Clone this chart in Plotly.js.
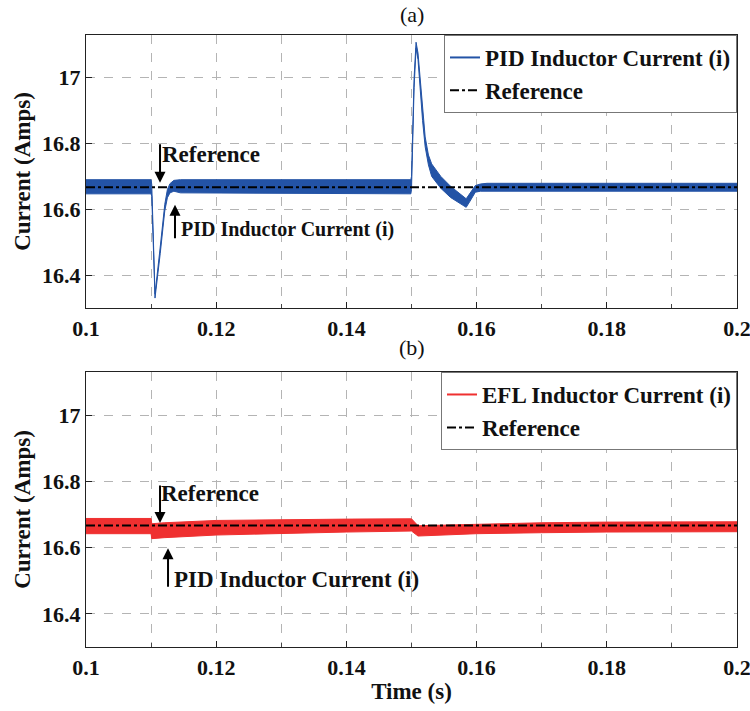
<!DOCTYPE html>
<html>
<head>
<meta charset="utf-8">
<script src="https://cdn.plot.ly/plotly-3.0.1.min.js"></script>
<style>html,body{margin:0;padding:0;background:#fff}#chart{width:750px;height:711px}</style>
</head>
<body>
<div id="chart"></div>
<script>
// ---- data ----
const pidTime  = [0.1, 0.1100, 0.1101, 0.1106, 0.1114, 0.1121, 0.1125, 0.1129, 0.1135, 0.1145, 0.1499, 0.1500, 0.1504, 0.1507, 0.1510, 0.1513, 0.1517, 0.1521, 0.1526, 0.1531, 0.1545, 0.1560, 0.1584, 0.1590, 0.1598, 0.1606, 0.1616, 0.2];
const pidUpper = [16.690, 16.690, 16.675, 16.342, 16.485, 16.615, 16.660, 16.678, 16.688, 16.690, 16.690, 16.700, 17.000, 17.108, 17.075, 17.000, 16.900, 16.820, 16.765, 16.738, 16.700, 16.670, 16.632, 16.648, 16.672, 16.677, 16.679, 16.679];
const pidLower = [16.647, 16.647, 16.640, 16.330, 16.465, 16.595, 16.635, 16.650, 16.655, 16.650, 16.647, 16.660, 16.970, 17.090, 17.055, 16.970, 16.870, 16.790, 16.735, 16.700, 16.664, 16.636, 16.606, 16.625, 16.652, 16.655, 16.655, 16.655];

const eflTime  = [0.1, 0.1100, 0.1101, 0.1120, 0.1200, 0.1300, 0.1400, 0.1499, 0.1500, 0.1510, 0.1550, 0.1600, 0.1700, 0.1800, 0.2];
const eflUpper = [16.688, 16.688, 16.672, 16.675, 16.682, 16.685, 16.686, 16.687, 16.687, 16.666, 16.668, 16.671, 16.675, 16.677, 16.678];
const eflLower = [16.642, 16.642, 16.627, 16.630, 16.638, 16.643, 16.647, 16.650, 16.650, 16.635, 16.638, 16.642, 16.645, 16.647, 16.648];

const refTime  = [0.1, 0.2];
const refValue = [16.667, 16.667];

const xTickVals = [0.1, 0.12, 0.14, 0.16, 0.18, 0.2];
const xTickText = ['0.1', '0.12', '0.14', '0.16', '0.18', '0.2'];
const yTickVals = [16.4, 16.6, 16.8, 17];
const yTickText = ['16.4', '16.6', '16.8', '17'];

const names = {pid: 'PID Inductor Current (i)', efl: 'EFL Inductor Current (i)', ref: 'Reference'};

// ---- styling ----
const BLUE = '#2353A6';
const RED = '#EF3030';
const FONT = 'Liberation Serif';
const boldFont = (s) => ({family: FONT, size: s, color: '#111', weight: 'bold'});

function band(t, lo, hi, color, xa, ya) {
  return [
    {x: t, y: lo, xaxis: xa, yaxis: ya, mode: 'lines', line: {color: color, width: 1}, showlegend: false, hoverinfo: 'skip'},
    {x: t, y: hi, xaxis: xa, yaxis: ya, mode: 'lines', line: {color: color, width: 1}, fill: 'tonexty', fillcolor: color, showlegend: false, hoverinfo: 'skip'}
  ];
}

const traces = [
  ...band(pidTime, pidLower, pidUpper, BLUE, 'x', 'y'),
  {x: [null], y: [null], xaxis: 'x', yaxis: 'y', mode: 'lines', name: names.pid, line: {color: BLUE, width: 2}, legend: 'legend'},
  {x: refTime, y: refValue, xaxis: 'x', yaxis: 'y', mode: 'lines', name: names.ref, line: {color: '#000', width: 2, dash: 'dashdot'}, legend: 'legend'},
  ...band(eflTime, eflLower, eflUpper, RED, 'x2', 'y2'),
  {x: [null], y: [null], xaxis: 'x2', yaxis: 'y2', mode: 'lines', name: names.efl, line: {color: RED, width: 2}, legend: 'legend2'},
  {x: refTime, y: refValue, xaxis: 'x2', yaxis: 'y2', mode: 'lines', name: names.ref, line: {color: '#000', width: 2, dash: 'dashdot'}, legend: 'legend2'}
];

function xAxis(anchor, showTitle) {
  const ax = {
    anchor: anchor, range: [0.0999999, 0.2000001], tickvals: xTickVals, ticktext: xTickText,
    ticks: 'inside', ticklen: 6, tickcolor: '#222', tickfont: boldFont(22), ticklabeloverflow: 'allow',
    showline: true, linecolor: '#222', linewidth: 1.2, mirror: true,
    showgrid: true, gridcolor: '#b4b4b4', griddash: 'dash', gridwidth: 1,
    minor: {dtick: 0.01, tick0: 0.1, showgrid: true, gridcolor: '#b4b4b4', griddash: 'dash', gridwidth: 1, ticks: 'inside', ticklen: 4, tickcolor: '#444'},
    zeroline: false, automargin: false
  };
  if (showTitle) ax.title = {text: 'Time (s)', font: boldFont(23), standoff: 4};
  return ax;
}
function yAxis(anchor, domain) {
  return {
    anchor: anchor, domain: domain, range: [16.3, 17.13], tickvals: yTickVals, ticktext: yTickText,
    ticks: 'inside', ticklen: 6, tickcolor: '#222', tickfont: boldFont(22),
    showline: true, linecolor: '#222', linewidth: 1.2, mirror: true,
    showgrid: true, gridcolor: '#b4b4b4', griddash: 'dash', gridwidth: 1,
    zeroline: false, automargin: false,
    title: {text: 'Current (Amps)', font: boldFont(23), standoff: 4}
  };
}

function arrow(xa, ya, x, y, ay) {
  return {xref: xa, yref: ya, x: x, y: y, ax: 0, ay: ay, text: '', showarrow: true,
          arrowhead: 2, arrowsize: 1.1, arrowwidth: 2, arrowcolor: '#000', standoff: 0};
}
function label(xa, ya, x, y, text, size) {
  return {xref: xa, yref: ya, x: x, y: y, text: text, showarrow: false, font: boldFont(size), xanchor: 'center', yanchor: 'middle'};
}

const legendBase = {xanchor: 'right', yanchor: 'top', bgcolor: '#fff', bordercolor: '#777', borderwidth: 1,
                    font: boldFont(23), itemwidth: 30, tracegroupgap: 0, traceorder: 'normal'};

const layout = {
  width: 750, height: 711,
  margin: {l: 86, r: 13, t: 35, b: 64},
  paper_bgcolor: '#fff', plot_bgcolor: '#fff',
  showlegend: true,
  xaxis: xAxis('y', false),
  yaxis: yAxis('x', [0.554, 1]),
  xaxis2: xAxis('y2', true),
  yaxis2: yAxis('x2', [0, 0.4493]),
  legend: Object.assign({x: 1, y: 1}, legendBase),
  legend2: Object.assign({x: 1, y: 0.4493}, legendBase),
  annotations: [
    {xref: 'paper', yref: 'paper', x: 0.5, y: 1.0327, text: '(a)', showarrow: false, font: {family: FONT, size: 22, color: '#111'}, yanchor: 'middle'},
    {xref: 'paper', yref: 'paper', x: 0.5, y: 0.4886, text: '(b)', showarrow: false, font: {family: FONT, size: 22, color: '#111'}, yanchor: 'middle'},
    label('x', 'y', 0.1192, 16.766, 'Reference', 23),
    arrow('x', 'y', 0.11137, 16.681, -40),
    label('x', 'y', 0.13088, 16.538, 'PID Inductor Current (i)', 20),
    arrow('x', 'y', 0.11367, 16.614, 35),
    label('x2', 'y2', 0.1190, 16.764, 'Reference', 23),
    arrow('x2', 'y2', 0.11137, 16.674, -39),
    label('x2', 'y2', 0.13241, 16.505, 'PID Inductor Current (i)', 23),
    arrow('x2', 'y2', 0.1126, 16.598, 40)
  ]
};

Plotly.newPlot('chart', traces, layout, {staticPlot: true, displayModeBar: false});
</script>
</body>
</html>
